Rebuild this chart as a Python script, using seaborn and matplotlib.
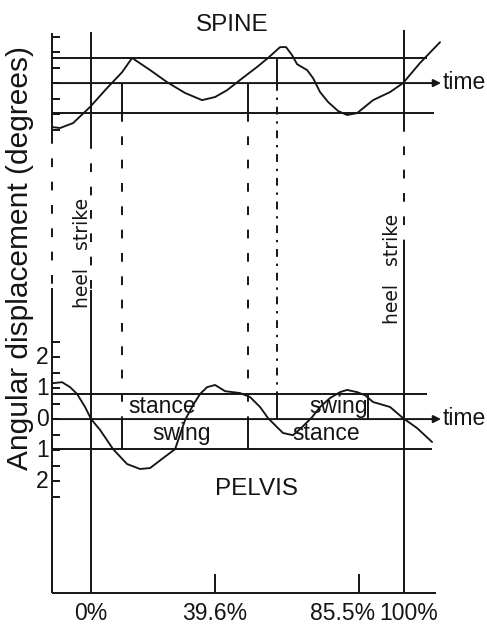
import matplotlib
matplotlib.use("Agg")
import matplotlib.pyplot as plt
import seaborn as sns
import pandas as pd
from matplotlib.transforms import offset_copy

sns.set_style("white")
plt.rcParams["font.family"] = ["Liberation Sans", "DejaVu Sans"]

# ---------------- data: angular displacement over the gait cycle ----------------
# x in % of gait cycle (0 % and 100 % = heel strike), y in degrees
spine_pct = [-12.46, -9.90, -5.75, -0.32, 5.11, 9.90, 13.10, 18.85, 24.28, 30.03,
             35.46, 39.62, 43.45, 47.60, 53.04, 56.55, 60.38, 62.30, 64.22, 65.81,
             69.01, 70.93, 73.16, 75.72, 78.91, 81.79, 84.98, 90.10, 95.53, 99.68,
             105.11, 111.50]
spine_deg = [-1.42, -1.45, -1.29, -0.77, -0.16, 0.35, 0.81, 0.42, 0.03, -0.32,
             -0.55, -0.45, -0.23, 0.10, 0.52, 0.81, 1.16, 1.16, 0.90, 0.61,
             0.42, 0.16, -0.29, -0.61, -0.90, -1.03, -0.97, -0.55, -0.29, 0.00,
             0.65, 1.32]

pelvis_pct = [-12.14, -9.27, -6.71, -4.47, -1.92, 0.00, 2.88, 7.03, 11.50, 15.65,
              18.85, 23.00, 26.84, 30.03, 32.59, 34.82, 37.06, 39.62, 42.81, 47.60,
              50.80, 53.99, 56.55, 59.42, 61.34, 64.54, 67.41, 70.61, 73.16, 76.36,
              79.55, 81.79, 84.98, 87.54, 90.10, 95.53, 99.68, 104.15, 108.95]
pelvis_deg = [1.16, 1.19, 1.03, 0.81, 0.39, 0.00, -0.35, -0.97, -1.45, -1.61,
              -1.58, -1.26, -0.97, -0.03, 0.45, 0.81, 1.03, 1.10, 0.90, 0.84,
              0.71, 0.39, 0.03, -0.26, -0.45, -0.52, -0.26, 0.06, 0.39, 0.68,
              0.87, 0.94, 0.87, 0.77, 0.55, 0.39, 0.03, -0.29, -0.74]

# stance / swing reference levels (degrees)
band_high = 0.80
band_low = -0.97

# phase transitions (% of gait cycle) and the band each one marks
phase_pct = [9.9, 50.2, 59.4, 88.5]
phase_spine_band = ["low", "low", "high", None]
phase_pelvis_band = ["low", "low", "high", "high"]
phase_link = ["dashed", "dashed", "dashdot", None]

cycle_ticks = [0, 39.6, 85.5, 100]
cycle_tick_labels = ["0%", "39.6%", "85.5%", "100%"]
pelvis_label_values = [2, 1, 0, -1, -2]
pelvis_label_text = ["2", "1", "0", "1", "2"]

# ---------------- layout ----------------
INK = "#151515"
LW = 1.4
SPINE_OFFSET = 10.84          # spine trace drawn above the pelvis trace
AXIS_X = -12.46
BASE_Y = -5.61
TOP_Y = 12.45
LINE_END = {"high": 107.3, "low": 109.6}
ARROW_END = 111.8
TICK_LEN = 2.6
FS = 16.5

DASH = (0, (4.5, 7.5))
DASHDOT = (0, (4.0, 3.5, 1.2, 3.5))

fig = plt.figure(figsize=(4.87, 6.28), dpi=100)
ax = fig.add_axes([0, 0, 1, 1])


def vline(x, y0, y1, ls="-"):
    ax.plot([x, x], [y0, y1], color=INK, lw=LW, ls=ls, solid_capstyle="butt")


def hline(y, x0, x1):
    ax.plot([x0, x1], [y, y], color=INK, lw=LW, solid_capstyle="butt")


# left axis: solid in both panels, dashed in between
vline(AXIS_X, TOP_Y, 9.16)
vline(AXIS_X, 9.16, 4.23, DASH)
vline(AXIS_X, 4.23, BASE_Y)
hline(BASE_Y, AXIS_X, 110.2)

# heel-strike verticals (0 % and 100 %)
vline(0, 12.48, 9.0)
vline(0, 9.0, 4.16, DASH)
vline(0, 4.16, BASE_Y)
vline(100, 12.55, 9.55)
vline(100, 9.55, 5.52, DASH)
vline(100, 5.52, BASE_Y)

# axis ticks
for k in range(-3, 4):
    hline(SPINE_OFFSET + 0.5 * k, AXIS_X, AXIS_X + TICK_LEN)
for k in range(-5, 6):
    hline(0.5 * k, AXIS_X, AXIS_X + TICK_LEN)
for t in cycle_ticks[1:3]:
    vline(t, BASE_Y, BASE_Y + 0.62)

# reference levels and time axes of both panels
for base in (SPINE_OFFSET, 0.0):
    hline(base + band_high, AXIS_X, LINE_END["high"])
    hline(base + band_low, AXIS_X, LINE_END["low"] - (0.0 if base else 0.6))
    ax.annotate("", xy=(ARROW_END, base), xytext=(AXIS_X, base),
                arrowprops=dict(arrowstyle="-|>", lw=LW, color=INK,
                                mutation_scale=11, shrinkA=0, shrinkB=0))
    ax.text(ARROW_END + 0.5, base + 0.03, "time", ha="left", va="center",
            fontsize=FS, color=INK)

# phase-transition markers
level = {"high": band_high, "low": band_low}
for x, sb, pb, link in zip(phase_pct, phase_spine_band, phase_pelvis_band, phase_link):
    if sb is not None:
        vline(x, SPINE_OFFSET, SPINE_OFFSET + level[sb])
    vline(x, 0.0, level[pb])
    if link is not None:
        top = SPINE_OFFSET + (level[sb] if sb == "low" else 0.0)
        bottom = 0.0 if pb == "low" else level[pb]
        vline(x, top, bottom, DASH if link == "dashed" else DASHDOT)

# traces
spine = pd.DataFrame({"pct": spine_pct, "deg": [d + SPINE_OFFSET for d in spine_deg]})
pelvis = pd.DataFrame({"pct": pelvis_pct, "deg": pelvis_deg})
sns.lineplot(data=spine, x="pct", y="deg", ax=ax, sort=False, estimator=None,
             color=INK, lw=1.35)
sns.lineplot(data=pelvis, x="pct", y="deg", ax=ax, sort=False, estimator=None,
             color=INK, lw=1.35)
ax.set_xlim(-29.1, 126.5)
ax.set_ylim(-6.74, 13.52)
ax.axis("off")

# panel titles and phase names
ax.text(45.0, SPINE_OFFSET + 1.88, "SPINE", ha="center", va="center", fontsize=17.5, color=INK)
ax.text(52.7, -2.25, "PELVIS", ha="center", va="center", fontsize=17.5, color=INK)
ax.text(22.7, 0.40, "stance", ha="center", va="center", fontsize=FS, color=INK)
ax.text(28.8, -0.45, "swing", ha="center", va="center", fontsize=FS, color=INK)
ax.text(79.2, 0.42, "swing", ha="center", va="center", fontsize=FS, color=INK)
ax.text(75.0, -0.45, "stance", ha="center", va="center", fontsize=FS, color=INK)

# heel strike annotations
ax.text(-2.9, 5.36, "heel   strike", rotation=90, ha="center", va="center",
        fontsize=13.5, color=INK, family="DejaVu Sans")
ax.text(96.4, 4.85, "heel   strike", rotation=90, ha="center", va="center",
        fontsize=13.5, color=INK, family="DejaVu Sans")

# pelvis scale labels
for v, s in zip(pelvis_label_values, pelvis_label_text):
    ax.text(-15.6, v, s, ha="center", va="center", fontsize=16.5, color=INK)

# gait-cycle labels
for t, s in zip(cycle_ticks, cycle_tick_labels):
    shift = {"85.5%": -16, "100%": 5}.get(s, 0)
    tr = offset_copy(ax.transData, fig=fig, x=shift, y=0, units="dots")
    ax.text(t, -6.28, s, ha="center", va="center", fontsize=FS, color=INK, transform=tr)

# vertical axis title
fig.text(20 / 487, 1 - 258 / 628, "Angular displacement (degrees)", rotation=90,
         ha="center", va="center", fontsize=21.5, color=INK)

fig.savefig("out.png", dpi=100, facecolor="white")
